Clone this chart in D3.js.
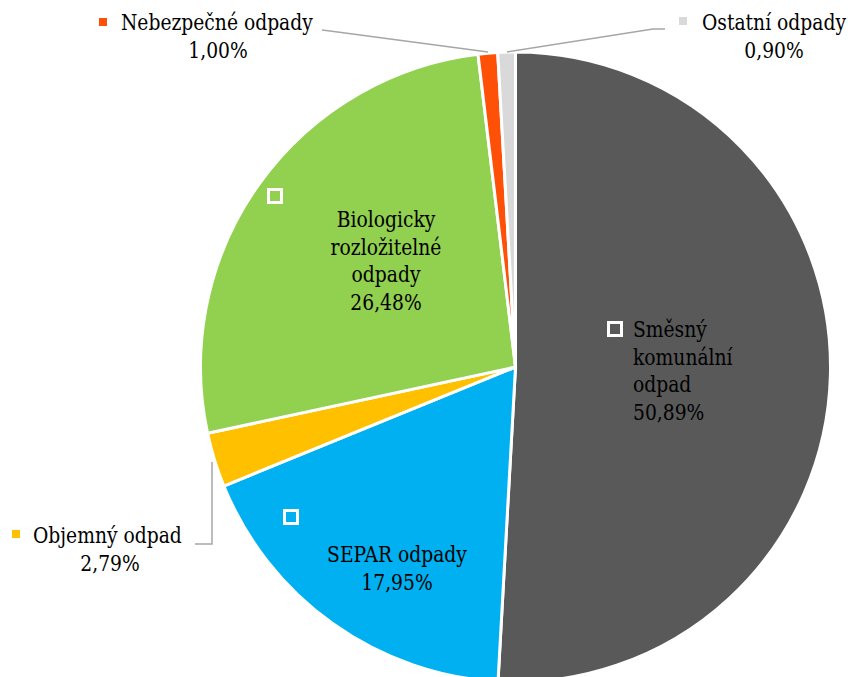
<!DOCTYPE html>
<html><head><meta charset="utf-8">
<script src="https://cdn.jsdelivr.net/npm/d3@7"></script>
<style>html,body{margin:0;padding:0;background:#fff;}svg{display:block;}
text{font-family:"DejaVu Serif",serif;}</style>
</head><body>
<svg id="chart" width="851" height="677"></svg>
<script>
const categories = ["Směsný komunální odpad","SEPAR odpady","Objemný odpad","Biologicky rozložitelné odpady","Nebezpečné odpady","Ostatní odpady"];
const values = [50.89, 17.95, 2.79, 26.48, 1.00, 0.90];
const valueLabels = ["50,89%","17,95%","2,79%","26,48%","1,00%","0,90%"];
const labelLines = [["Směsný","komunální","odpad"],["SEPAR odpady"],["Objemný odpad"],["Biologicky","rozložitelné","odpady"],["Nebezpečné odpady"],["Ostatní odpady"]];
const colors = ["#595959","#00B0F0","#FFC000","#92D050","#FF5008","#D9D9D9"];

const W = 851, H = 677, cx = 515.5, cy = 367, R = 315;
const LH = 27.6, FS = 22;
const svg = d3.select("#chart");

// horizontal compression so that "Nebezpečné odpady" is ~192px wide, as in the reference
const probe = svg.append("text").attr("font-size", FS).text(labelLines[4][0]);
const K = Math.min(1, 192 / probe.node().getComputedTextLength());
probe.remove();

const g = svg.append("g").attr("transform", `translate(${cx},${cy})`);
const pie = d3.pie().sort(null).value(d => d)(values);
const arc = d3.arc().innerRadius(0).outerRadius(R);

g.selectAll("path").data(pie).join("path")
  .attr("d", arc).attr("fill", (d,i) => colors[i])
  .attr("stroke", "#fff").attr("stroke-width", 3).attr("stroke-linejoin","miter");

const layout = [
  {inside:true, align:"start", tx:633, base:337, mx:615, my:329},
  {inside:true, align:"middle", tx:397, base:562, mx:291, my:517},
  {inside:false, align:"middle", tx:110, base:543, mx:16, my:534, textStart:33},
  {inside:true, align:"middle", tx:386, base:227, mx:275, my:196},
  {inside:false, align:"middle", tx:218, base:30, mx:103, my:22, textStart:121},
  {inside:false, align:"middle", tx:774, base:30, mx:683, my:21, textStart:702}
];

const leaders = [
  {i:2, pts:[[212,462],[212,544],[195,544]]},
  {i:4, pts:[[322,30],[330,31],[488,52]]},
  {i:5, pts:[[507,52],[653,29],[665,29]]}
];
svg.selectAll("path.leader").data(leaders).join("path").attr("class","leader")
  .attr("d", d => d3.line()(d.pts)).attr("fill","none").attr("stroke","#A6A6A6").attr("stroke-width",1.5);

const lab = svg.append("g").attr("font-size",FS).attr("fill","#000");
function addText(x, y, anchor, t) {
  lab.append("g").attr("transform", `translate(${x},${y}) scale(${K},1)`)
    .append("text").attr("x", 0).attr("y", 0).attr("text-anchor", anchor).text(t);
}
layout.forEach((L, i) => {
  if (L.inside) {
    lab.append("rect").attr("x", L.mx-6.5).attr("y", L.my-6.5).attr("width",13).attr("height",13)
      .attr("fill", colors[i]).attr("stroke","#fff").attr("stroke-width",3);
    const lines = labelLines[i].concat([valueLabels[i]]);
    lines.forEach((t, k) => addText(L.tx, L.base + k*LH, L.align, t));
  } else {
    lab.append("rect").attr("x", L.mx-4).attr("y", L.my-4).attr("width",8).attr("height",8).attr("fill", colors[i]);
    addText(L.textStart, L.base, "start", labelLines[i][0]);
    addText(L.tx, L.base + LH, "middle", valueLabels[i]);
  }
});
</script>
</body></html>
